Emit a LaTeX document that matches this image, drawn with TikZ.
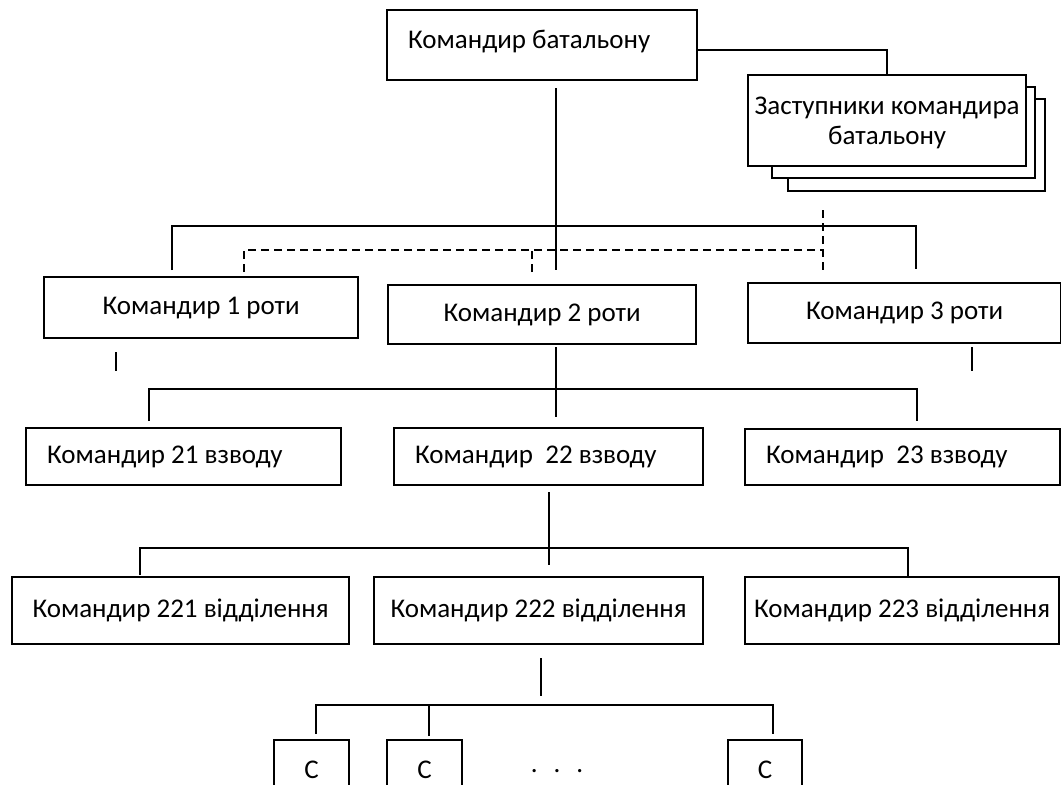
\documentclass[tikz,border=0pt]{standalone}
\usepackage{fontspec}
\setmainfont{Carlito}
\usetikzlibrary{calc,positioning}

\begin{document}
\begin{tikzpicture}[x=1pt, y=-1pt, line width=2.3pt,
    post/.style={draw, fill=white, anchor=north west, inner sep=0pt,
      align=center, font=\fontsize{27}{30}\selectfont},
    leftpost/.style={post, align=flush left, inner xsep=21pt, text width=#1},
    soldier/.style={post, draw=none, fill=none, minimum height=43pt,
      text height=37pt, text depth=6pt},
    gap/.style={dash pattern=on 8pt off 5pt}]
  \useasboundingbox (0,0) rectangle (1061,785);
  \clip (0,0) rectangle (1061,785);

  % battalion and deputies
  \node[leftpost=268pt, minimum height=70pt, text height=20pt, text depth=14pt]
    (bat) at (386,9) {Командир батальону};
  \node[post, minimum width=257pt, minimum height=92pt] (dep3) at (787,98) {};
  \node[post, minimum width=263pt, minimum height=91pt] (dep2) at (771,86) {};
  \node[post, minimum width=278pt, minimum height=91pt, text depth=0pt] (dep1) at (747,74)
    {Заступники командира\\батальону};

  % companies
  \node[post, minimum width=314pt, minimum height=61pt] (rota1) at (43,276) {Командир 1 роти};
  \node[post, minimum width=308pt, minimum height=59pt] (rota2) at (387,284) {Командир 2 роти};
  \node[post, minimum width=313pt, minimum height=60pt] (rota3) at (747,282) {Командир 3 роти};

  % platoons
  \node[leftpost=273pt, minimum height=57pt] (vz21) at (25,427) {Командир 21 взводу};
  \node[leftpost=267pt, minimum height=57pt] (vz22) at (393,427) {Командир\ \ 22 взводу};
  \node[leftpost=273pt, minimum height=56pt] (vz23) at (744,428) {Командир\ \ 23 взводу};

  % squads
  \node[post, minimum width=337pt, minimum height=67pt] (od221) at (11,576) {Командир 221 відділення};
  \node[post, minimum width=329pt, minimum height=67pt] (od222) at (373,576) {Командир 222 відділення};
  \node[post, minimum width=314pt, minimum height=67pt] (od223) at (744,576) {Командир 223 відділення};

  % soldiers, cut by the lower edge
  \node[soldier, minimum width=73pt] (sol1) at (274,740) {С};
  \node[soldier, minimum width=73pt] (sol2) at (387,740) {С};
  \node[soldier, minimum width=72pt] (sol3) at (728,740) {С};
  \foreach \s in {sol1,sol2,sol3}
    \draw ($(\s.south west)+(0,6)$) |- (\s.north east) -- ++(0,49);
  \node[font=\fontsize{27}{30}\selectfont] (dots) at (557,771)
    {.\hspace{16pt}.\hspace{16pt}.};

  % connectors
  \draw ($(bat.east)+(0,5)$) -| (dep1.north);
  \draw ($(bat.south)+(14,7)$) -- ++(0,182);
  \draw ($(rota1.north)+(-29,-6)$) |- ($(rota3.north)+(11,-56)$) -- ++(0,43);
  \draw[gap] ($(rota1.north)+(43,-4)$) |- ($(rota3.north)+(-82,-32)$);
  \draw[gap] ($(rota2.north)+(-10,-12)$) -- ++(0,-22);
  \draw[gap] ($(dep3.south)+(-94,18)$) -- ++(0,62);
  \draw ($(rota1.south)+(-85,13)$) -- ++(0,19);
  \draw ($(rota3.south)+(67,3)$) -- ++(0,24);
  \draw ($(rota2.south)+(14,2)$) -- ++(0,70);
  \draw ($(vz21.north)+(-35,-6)$) |- ($(vz23.north)+(14,-39)$) -- ++(0,32);
  \draw ($(vz22.south)+(0,6)$) -- ++(0,73);
  \draw ($(od221.north)+(-41,-1)$) |- ($(od223.north)+(6,-28)$) -- ++(0,28);
  \draw ($(od222.south)+(2,13)$) -- ++(0,38);
  \draw ($(sol1.north)+(4,-6)$) |- ($(sol3.north)+(8,-35)$) -- ++(0,29);
  \draw ($(sol2.north)+(4,-4)$) -- ++(0,-31);
\end{tikzpicture}
\end{document}
